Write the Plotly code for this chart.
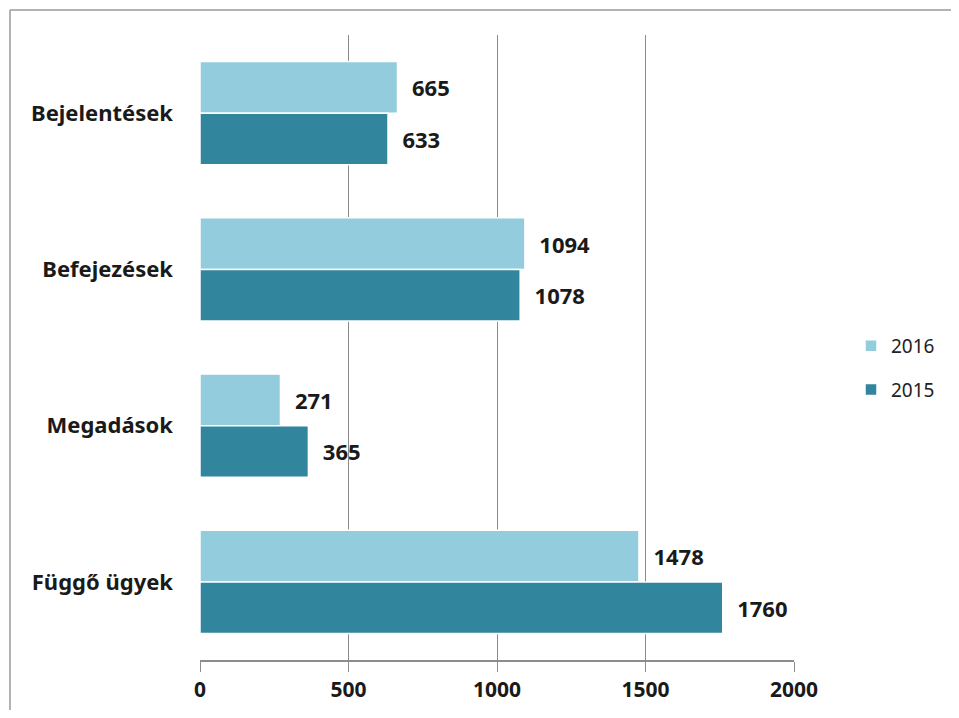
import plotly.graph_objects as go

categories = ["Bejelentések", "Befejezések", "Megadások", "Függő ügyek"]
values_2016 = [665, 1094, 271, 1478]
values_2015 = [633, 1078, 365, 1760]
x_ticks = [0, 500, 1000, 1500, 2000]

color_2016 = "#93CDDD"
color_2015 = "#31859C"
font_family = "Noto Sans, Open Sans, sans-serif"

# page body has an 8px margin; figure is sized/positioned to compensate
OFF = 8
W, H = 959 - 2 * OFF, 718 - 2 * OFF
L, R_px, T, B_px = 200 - OFF, 794 - OFF, 35 - OFF, 660 - OFF
PW, PH = R_px - L, B_px - T

fig = go.Figure()
for name, vals, col, grp in [("2016", values_2016, color_2016, "a"),
                             ("2015", values_2015, color_2015, "b")]:
    fig.add_trace(go.Bar(
        y=categories, x=vals, orientation="h", name=name,
        marker=dict(color=col, line=dict(color="white", width=1.5)),
        text=vals, texttemplate="  %{x}", textposition="outside",
        textfont=dict(family=font_family, size=22, color="#1a1a1a", weight="bold"),
        cliponaxis=False, legendgroup=grp,
    ))

bx0 = (10 - 200) / PW
by1 = (660 - 10) / PH
fig.update_layout(
    width=W, height=H,
    margin=dict(l=L, r=W - R_px, t=T, b=H - B_px, autoexpand=False),
    paper_bgcolor="white", plot_bgcolor="white",
    barmode="group", bargap=0.34, bargroupgap=0,
    font=dict(family=font_family, color="#1a1a1a"),
    showlegend=True,
    legend=dict(x=(851 - 200) / 594, y=(660 - 368) / 625, xanchor="left", yanchor="middle",
                font=dict(size=19, color="#222"), tracegroupgap=16,
                itemwidth=30, bgcolor="rgba(0,0,0,0)"),
    uniformtext=dict(mode=False),
    shapes=[
        dict(type="line", xref="paper", yref="paper", x0=bx0, x1=(W - L + 5) / PW,
             y0=by1, y1=by1, line=dict(color="#9a9a9a", width=1.5), layer="below"),
        dict(type="line", xref="paper", yref="paper", x0=bx0, x1=bx0,
             y0=(B_px - H - 5) / PH, y1=by1, line=dict(color="#9a9a9a", width=1.5), layer="below"),
    ],
)
fig.update_xaxes(
    range=[0, 2000], tickvals=x_ticks, ticktext=[str(t) for t in x_ticks],
    showgrid=True, gridcolor="#8a8a8a", gridwidth=1.2,
    showline=True, linecolor="#8c8c8c", linewidth=1.5,
    ticks="outside", ticklen=10, tickcolor="#8c8c8c",
    tickfont=dict(size=21, color="#1a1a1a", weight="bold"),
    zeroline=False,
)
fig.update_yaxes(
    autorange="reversed", showgrid=False, showline=False,
    ticks="", ticklabelstandoff=26,
    tickfont=dict(size=22, color="#1a1a1a", weight="bold"),
)

fig.write_html("out.html")
